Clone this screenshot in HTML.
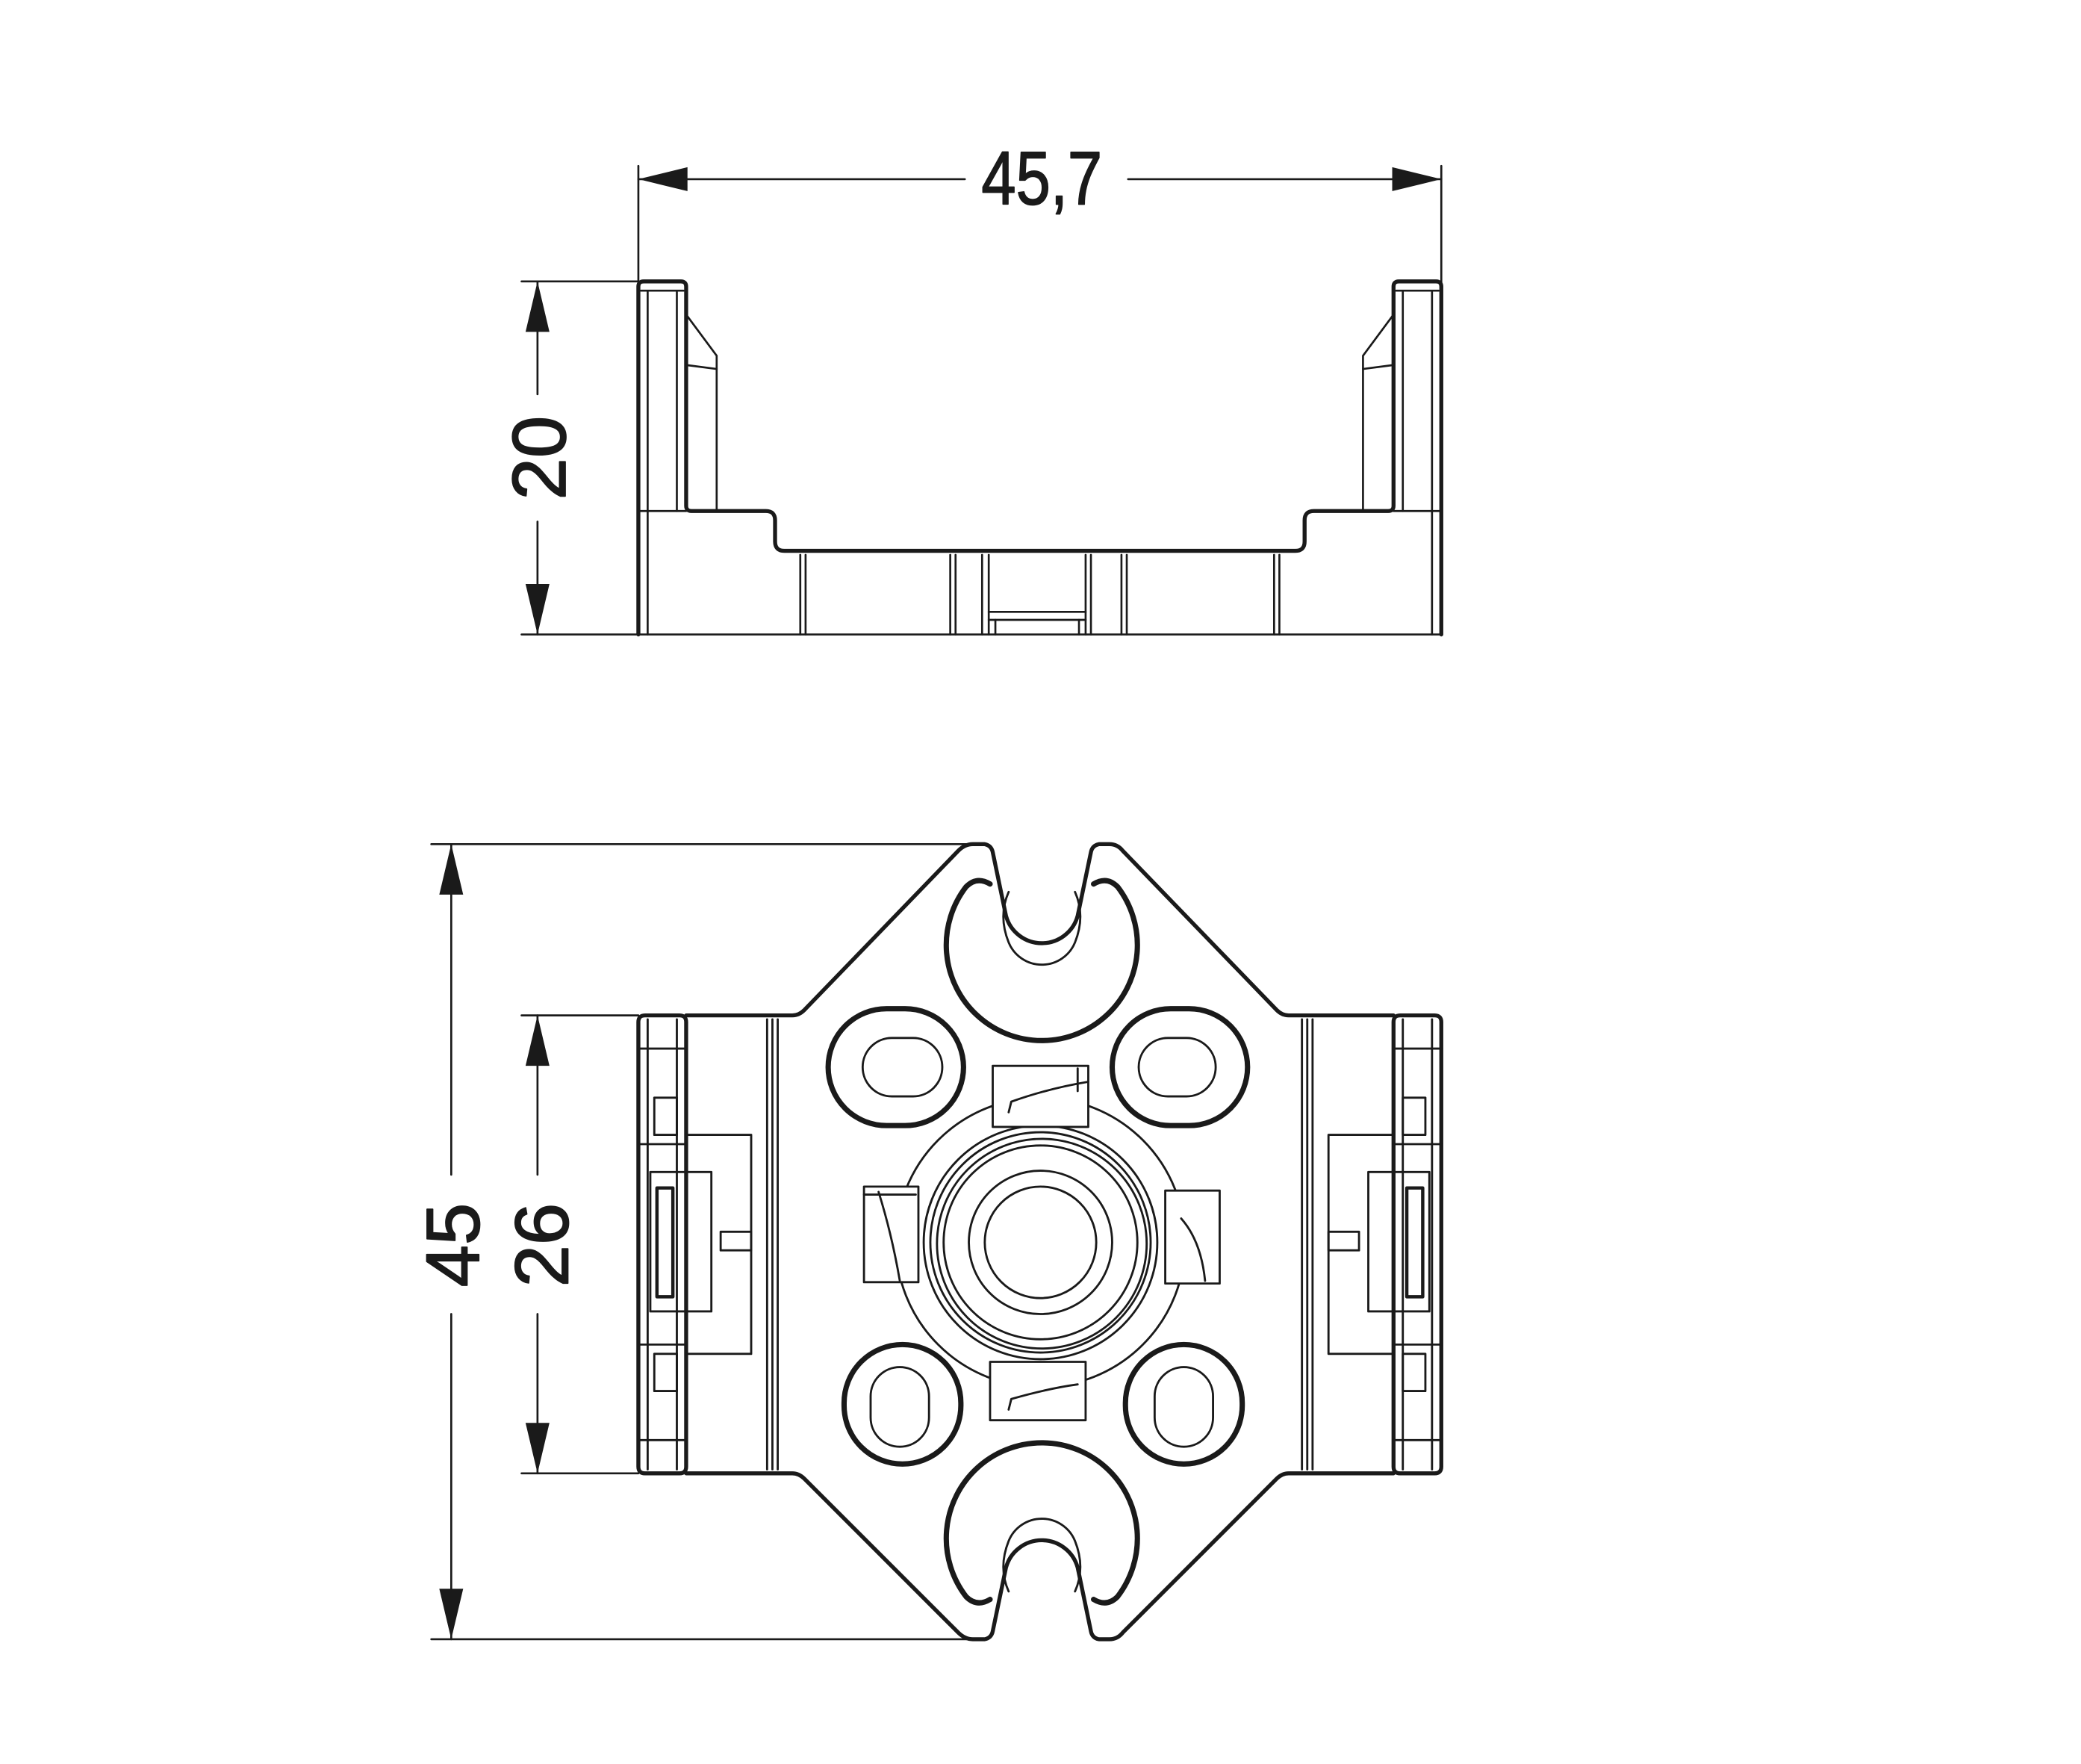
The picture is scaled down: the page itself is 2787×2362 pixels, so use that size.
<!DOCTYPE html>
<html><head><meta charset="utf-8"><style>
html,body{margin:0;padding:0;background:#fff}
svg{display:block}
text{font-family:"Liberation Sans Narrow","Liberation Sans",sans-serif;fill:#1a1a1a}
</style></head><body>
<svg width="2787" height="2362" viewBox="0 0 1568 1329" preserveAspectRatio="none" xmlns="http://www.w3.org/2000/svg">
<g fill="none" stroke="#1a1a1a" stroke-linejoin="round" stroke-linecap="round">

<g stroke-width="1.5">
<line x1="481" y1="125" x2="481" y2="478"/>
<line x1="1086" y1="125" x2="1086" y2="478"/>
<line x1="481" y1="135" x2="727" y2="135"/>
<line x1="850" y1="135" x2="1086" y2="135"/>
<line x1="393" y1="212" x2="481" y2="212"/>
<line x1="393" y1="478" x2="1086" y2="478"/>
<line x1="405" y1="212" x2="405" y2="297"/>
<line x1="405" y1="393" x2="405" y2="478"/>
</g>
<g fill="#1a1a1a" stroke="none">
<polygon points="481,135 518,126 518,144"/>
<polygon points="1086,135 1049,126 1049,144"/>
<polygon points="405,212 396,250 414,250"/>
<polygon points="405,478 396,440 414,440"/>
</g>

<g stroke-width="1.5">
<line x1="488" y1="220" x2="488" y2="478"/>
<line x1="510" y1="220" x2="510" y2="385"/>
<line x1="483" y1="219" x2="515" y2="219"/>
<path d="M517,237 L540,268 L540,385"/>
<line x1="517" y1="275" x2="540" y2="278"/>
<line x1="481" y1="385" x2="517" y2="385"/>
<line x1="1079" y1="220" x2="1079" y2="478"/>
<line x1="1057" y1="220" x2="1057" y2="385"/>
<line x1="1052" y1="219" x2="1084" y2="219"/>
<path d="M1050,237 L1027,268 L1027,385"/>
<line x1="1050" y1="275" x2="1027" y2="278"/>
<line x1="1050" y1="385" x2="1086" y2="385"/>
<line x1="603" y1="418" x2="603" y2="478"/><line x1="607" y1="418" x2="607" y2="478"/>
<line x1="716" y1="418" x2="716" y2="478"/><line x1="720" y1="418" x2="720" y2="478"/>
<line x1="740" y1="418" x2="740" y2="478"/><line x1="745" y1="418" x2="745" y2="478"/>
<line x1="818" y1="418" x2="818" y2="478"/><line x1="822" y1="418" x2="822" y2="478"/>
<line x1="845" y1="418" x2="845" y2="478"/><line x1="849" y1="418" x2="849" y2="478"/>
<line x1="960" y1="418" x2="960" y2="478"/><line x1="964" y1="418" x2="964" y2="478"/>
<line x1="745" y1="461" x2="818" y2="461"/>
<line x1="745" y1="467" x2="818" y2="467"/>
<line x1="750" y1="467" x2="750" y2="478"/><line x1="813" y1="467" x2="813" y2="478"/>
</g>
<g stroke-width="3">
<path d="M481,478 L481,216 Q481,212 485,212 L513,212 Q517,212 517,216 L517,381 Q517,385 521,385 L577,385 Q584,385 584,392 L584,408 Q584,415 591,415 L976,415 Q983,415 983,408 L983,392 Q983,385 990,385 L1046,385 Q1050,385 1050,381 L1050,216 Q1050,212 1054,212 L1082,212 Q1086,212 1086,216 L1086,478"/>
</g>
<text x="785" y="154" font-size="57" text-anchor="middle" transform="translate(785 0) scale(0.82 1) translate(-785 0)">45,7</text>
<text font-size="57" text-anchor="middle" transform="translate(426 345) rotate(-90)">20</text>

<g stroke-width="1.5">
<line x1="325" y1="636" x2="740" y2="636"/>
<line x1="325" y1="1235" x2="740" y2="1235"/>
<line x1="340" y1="636" x2="340" y2="885"/>
<line x1="340" y1="990" x2="340" y2="1235"/>
<line x1="393" y1="765" x2="481" y2="765"/>
<line x1="393" y1="1110" x2="481" y2="1110"/>
<line x1="405" y1="765" x2="405" y2="885"/>
<line x1="405" y1="990" x2="405" y2="1110"/>
</g>
<g fill="#1a1a1a" stroke="none">
<polygon points="340,636 331,674 349,674"/>
<polygon points="340,1235 331,1197 349,1197"/>
<polygon points="405,765 396,803 414,803"/>
<polygon points="405,1110 396,1072 414,1072"/>
</g>
<text font-size="57" text-anchor="middle" transform="translate(361 938) rotate(-90)">45</text>
<text font-size="57" text-anchor="middle" transform="translate(428 938) rotate(-90)">26</text>

<g stroke-width="3">
<path d="M517,765 L597,765 Q602,765 606,761 L722,641 Q727,636 733,636 L742,636 Q747,637 748,642 L758,690 A28,28 0 0 0 812,690 L822,642 Q823,637 828,636 L836,636 Q842,636 846,641 L962,761 Q966,765 971,765 L1050,765"/>
<path d="M517,1110 L597,1110 Q602,1110 606,1114 L722,1230 Q727,1235 733,1235 L742,1235 Q747,1234 748,1229 L758,1181 A28,28 0 0 1 812,1181 L822,1229 Q823,1234 828,1235 L836,1235 Q842,1235 846,1230 L962,1114 Q966,1110 971,1110 L1050,1110"/>
</g>
<g stroke-width="4">
<path d="M746,666 Q736,660 728,668 A72,72 0 1 0 842,668 Q834,660 824,666"/>
<path d="M746,1205 Q736,1211 728,1203 A72,72 0 1 1 842,1203 Q834,1211 824,1205"/>
<rect x="624" y="760" width="102" height="88" rx="44"/>
<rect x="838" y="760" width="102" height="88" rx="44"/>
<rect x="636" y="1013" width="88" height="90" rx="44"/>
<rect x="848" y="1013" width="88" height="90" rx="44"/>
</g>
<g stroke-width="3">
<path d="M481,770 Q481,765 486,765 L512,765 Q517,765 517,770 L517,1105 Q517,1110 512,1110 L486,1110 Q481,1110 481,1105 Z"/>
<path d="M1086,770 Q1086,765 1081,765 L1055,765 Q1050,765 1050,770 L1050,1105 Q1050,1110 1055,1110 L1081,1110 Q1086,1110 1086,1105 Z"/>
</g>
<g stroke-width="1.6">
<path d="M760,672 Q752,690 760,710 A27,27 0 0 0 810,710 Q818,690 810,672"/>
<path d="M760,1199 Q752,1181 760,1161 A27,27 0 0 1 810,1161 Q818,1181 810,1199"/>
<rect x="650" y="782" width="60" height="44" rx="22"/>
<rect x="858" y="782" width="58" height="44" rx="22"/>
<rect x="656" y="1030" width="44" height="60" rx="22"/>
<rect x="870" y="1030" width="44" height="60" rx="22"/>
<circle cx="784" cy="936" r="109"/>
<circle cx="784" cy="936" r="88"/>
<circle cx="784" cy="936" r="83"/>
<circle cx="785" cy="937" r="79"/>
<circle cx="784" cy="936" r="73"/>
<circle cx="784" cy="936" r="54"/>
<circle cx="784" cy="936" r="42"/>
<rect x="748" y="803" width="72" height="46" fill="#fff"/>
<path d="M760,838 L762,830 Q790,820 820,815"/><path d="M812,805 L812,822"/>
<rect x="746" y="1026" width="72" height="44" fill="#fff"/>
<path d="M760,1062 L762,1054 Q790,1046 812,1043"/>
<rect x="651" y="894" width="41" height="72" fill="#fff"/>
<path d="M662,898 Q672,930 678,965"/><path d="M651,900 L690,900"/>
<rect x="878" y="897" width="41" height="70" fill="#fff"/>
<path d="M890,918 Q905,935 908,965"/>
<line x1="488" y1="768" x2="488" y2="1107"/>
<line x1="510" y1="768" x2="510" y2="1107"/>
<line x1="481" y1="790" x2="517" y2="790"/>
<line x1="481" y1="1085" x2="517" y2="1085"/>
<line x1="517" y1="765" x2="600" y2="765"/>
<line x1="517" y1="1110" x2="600" y2="1110"/>
<line x1="578" y1="768" x2="578" y2="1107"/><line x1="582" y1="768" x2="582" y2="1107"/><line x1="586" y1="768" x2="586" y2="1107"/>
<rect x="517" y="855" width="49" height="165"/>
<rect x="490" y="883" width="46" height="105"/>
<rect x="495" y="895" width="12" height="82" stroke-width="2.5"/>
<rect x="543" y="928" width="23" height="14"/>
<rect x="493" y="827" width="17" height="28"/><rect x="493" y="1020" width="17" height="28"/>
<line x1="481" y1="862" x2="517" y2="862"/><line x1="481" y1="1013" x2="517" y2="1013"/>
<line x1="1079" y1="768" x2="1079" y2="1107"/>
<line x1="1057" y1="768" x2="1057" y2="1107"/>
<line x1="1050" y1="790" x2="1086" y2="790"/>
<line x1="1050" y1="1085" x2="1086" y2="1085"/>
<line x1="967" y1="765" x2="1050" y2="765"/>
<line x1="967" y1="1110" x2="1050" y2="1110"/>
<line x1="989" y1="768" x2="989" y2="1107"/><line x1="985" y1="768" x2="985" y2="1107"/><line x1="981" y1="768" x2="981" y2="1107"/>
<rect x="1001" y="855" width="49" height="165"/>
<rect x="1031" y="883" width="46" height="105"/>
<rect x="1060" y="895" width="12" height="82" stroke-width="2.5"/>
<rect x="1001" y="928" width="23" height="14"/>
<rect x="1057" y="827" width="17" height="28"/><rect x="1057" y="1020" width="17" height="28"/>
<line x1="1050" y1="862" x2="1086" y2="862"/><line x1="1050" y1="1013" x2="1086" y2="1013"/>
</g>
</g>
</svg>
</body></html>
